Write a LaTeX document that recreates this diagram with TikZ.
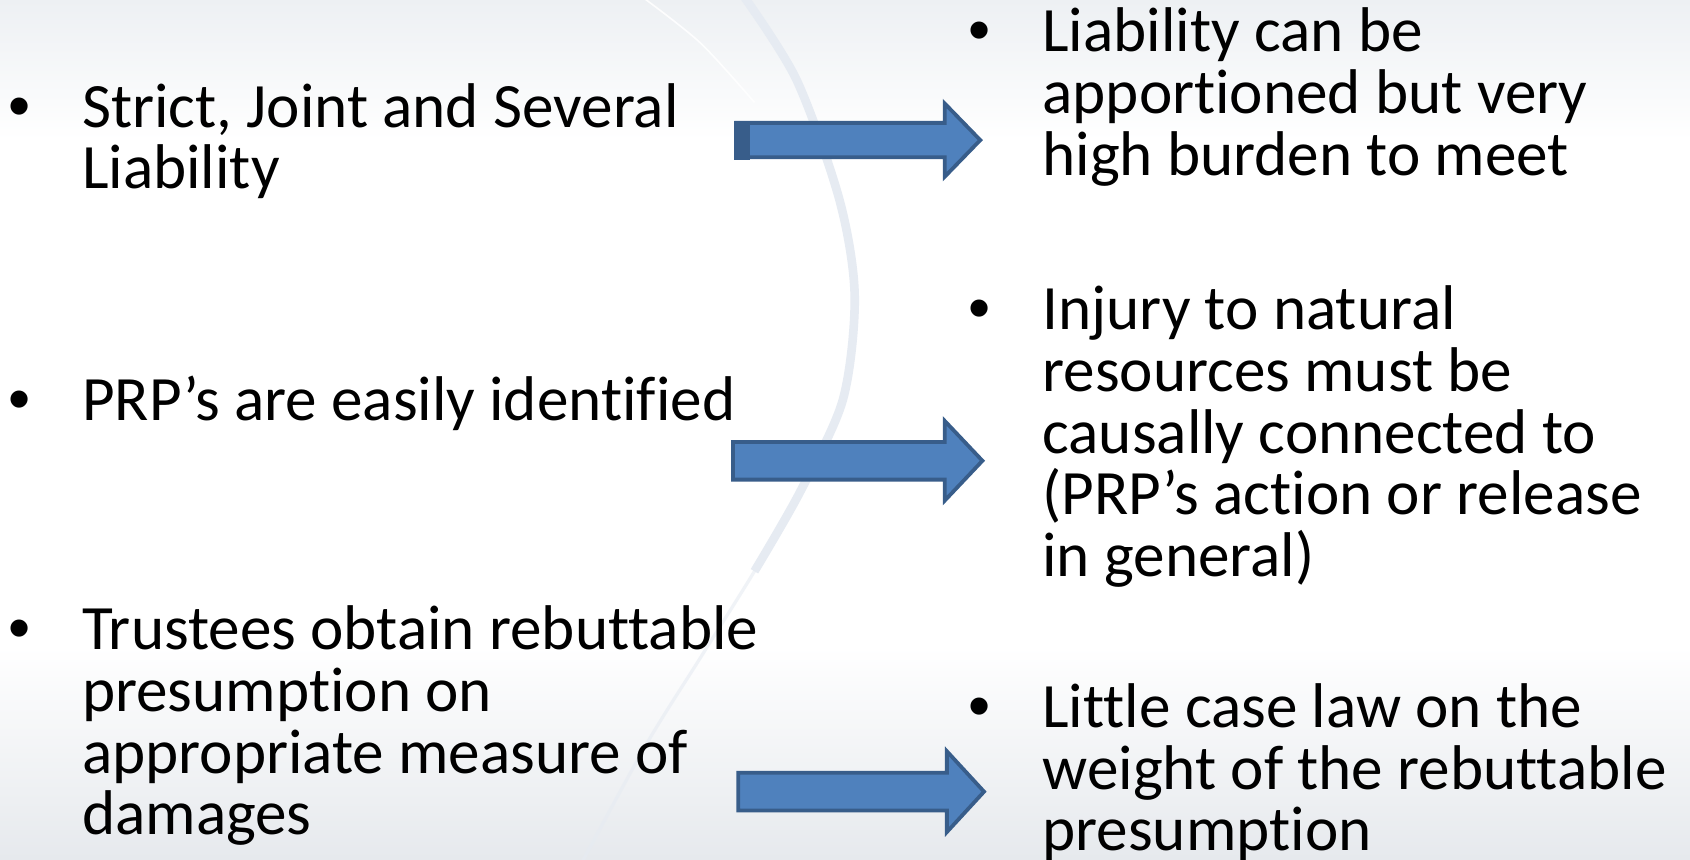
\documentclass[tikz,border=0pt]{standalone}
\usepackage{fontspec}
\setmainfont{Carlito}[Ligatures=NoCommon]
\newfontfamily\bulletfont{Liberation Sans}
\definecolor{arrfill}{HTML}{4F81BD}
\definecolor{arrline}{HTML}{385D8A}
\definecolor{bgtop}{HTML}{EDF0F3}
\definecolor{bgbot}{HTML}{E6E9ED}
\definecolor{arccol}{HTML}{E6EBF2}
\begin{document}
\begin{tikzpicture}[x=1pt,y=-1pt,
  item/.style={anchor=base west, inner sep=0pt, font=\fontsize{58.6}{57.2}\selectfont},
  blockarrow/.style={fill=arrfill, draw=arrline, line width=3.5pt, line join=miter},
  arcline/.style={draw=arccol, line cap=butt}]
\newcommand{\itembox}[1]{\parbox[t]{640pt}{\lineskiplimit=-100pt\raggedright\leavevmode\llap{\makebox[68.6pt][l]{\bulletfont •}}#1}}
% background
\useasboundingbox (0,0) rectangle (1568,797);
\fill[white] (0,0) rectangle (1568,797);
\shade[top color=bgtop, bottom color=white] (0,0) rectangle (1568,130);
\shade[top color=white, bottom color=bgbot] (0,600) rectangle (1568,797);
% faint arc
\draw[arcline, line width=8pt] plot[smooth] coordinates {(689,-5) (739,74) (779,186) (793,275) (782,371) (742,457) (700,530)};
\draw[arcline, line width=3pt, opacity=0.6] plot[smooth] coordinates {(742,457) (700,530) (650,610) (600,690) (540,800)};
\draw[white, line width=1.5pt, opacity=0.9] plot[smooth] coordinates {(597,-2) (650,40) (700,95)};
% left column
\node[item] (l1) at (76,118) {\itembox{Strict, Joint and Several\\Liability}};
\node[item] (l2) at (76,390) {\itembox{PRP’s are easily identified}};
\node[item] (l3) at (76,603) {\itembox{Trustees obtain rebuttable\\presumption on\\appropriate measure of\\damages}};
% right column
\node[item] (r1) at (967,48) {\itembox{Liability can be\\apportioned but very\\high burden to meet}};
\node[item] (r2) at (967,306) {\itembox{Injury to natural\\resources must be\\causally connected to\\(PRP’s action or release\\in general)}};
\node[item] (r3) at (967,675) {\itembox{Little case law on the\\weight of the rebuttable\\presumption}};
% arrows
\coordinate (a1s) at (683,130); \coordinate (a1t) at (909.5,130);
\coordinate (a2s) at (680,427.5); \coordinate (a2t) at (911.5,427.5);
\coordinate (a3s) at (685,734.5); \coordinate (a3t) at (913,734.5);
\draw[blockarrow] ([yshift=16pt]a1s) -- (876.5,114) -- (876.5,96) -- (a1t) -- (876.5,164) -- (876.5,146) -- ([yshift=-16pt]a1s) -- cycle;
\fill[arrline] (681,112) rectangle (696,148);
\draw[blockarrow] ([yshift=17.5pt]a2s) -- (876.5,410) -- (876.5,390.5) -- (a2t) -- (876.5,464.5) -- (876.5,445) -- ([yshift=-17.5pt]a2s) -- cycle;
\draw[blockarrow] ([yshift=17.5pt]a3s) -- (878.5,717) -- (878.5,697) -- (a3t) -- (878.5,772) -- (878.5,752) -- ([yshift=-17.5pt]a3s) -- cycle;
\end{tikzpicture}
\end{document}
